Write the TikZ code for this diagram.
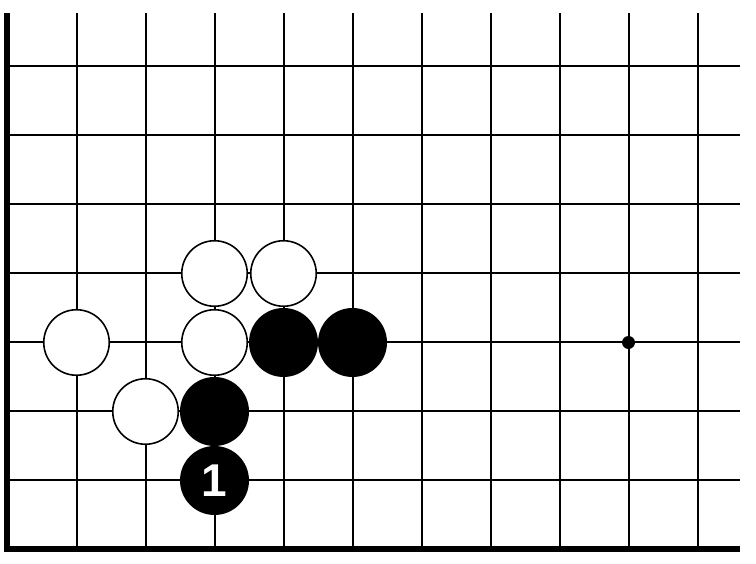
\documentclass[tikz,border=0pt]{standalone}
\usepackage{fontspec}
\setsansfont{Liberation Sans}
\tikzstyle{gridline}=[line width=2pt]
\tikzstyle{edge}=[line width=6pt]
\tikzstyle{white stone}=[circle,draw=black,fill=white,line width=1.6pt,
minimum size=65.5pt,inner sep=0pt]
\tikzstyle{black stone}=[circle,fill=black,minimum size=69pt,inner sep=0pt,
text=white,font=\sffamily\bfseries\fontsize{46}{46}\selectfont]
\tikzstyle{hoshi}=[circle,fill=black,minimum size=13pt,inner sep=0pt]

\begin{document}
\begin{tikzpicture}[x=69pt,y=69pt]
        \useasboundingbox (-7.5pt,-13.5pt) rectangle (748.5pt,549.5pt);
        \foreach \c in {1,...,10} \draw [gridline] (\c,0) -- (\c,7.775);
        \foreach \r in {1,...,7} \draw [gridline] (0,\r) -- (10.616,\r);
        \draw [edge] (0,7.775) -- (0,0) -- (10.616,0);

        \node (star) [hoshi] at (9,3) {};

        \node (w1) [white stone] at (3,4) {};
        \node (w2) [white stone] at (4,4) {};
        \node (w3) [white stone] at (1,3) {};
        \node (w4) [white stone] at (3,3) {};
        \node (w5) [white stone] at (2,2) {};
        \node (b1) [black stone] at (4,3) {};
        \node (b2) [black stone] at (5,3) {};
        \node (b3) [black stone] at (3,2) {};
        \node (b4) [black stone] at (3,1) {1};
    \end{tikzpicture}
\end{document}
